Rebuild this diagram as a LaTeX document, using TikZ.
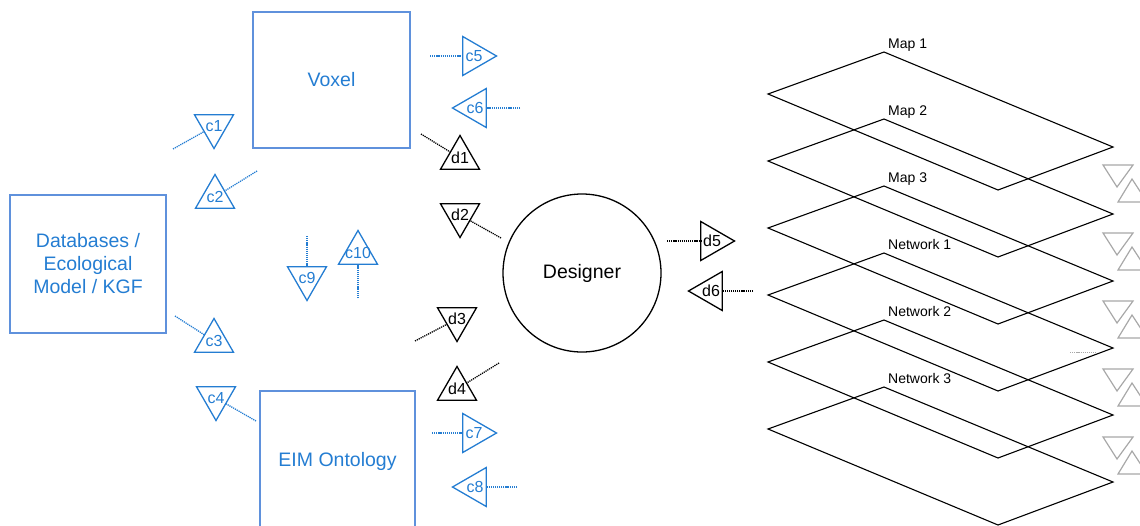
\documentclass[tikz,border=0pt]{standalone}
\usepackage{fontspec}
\setmainfont{Liberation Sans}
\usetikzlibrary{shapes.geometric}
\definecolor{tblue}{RGB}{36,125,210}
\definecolor{bblue}{RGB}{95,145,220}
\definecolor{lgray}{RGB}{168,168,168}

\begin{document}
\begin{tikzpicture}[x=1pt,y=-1pt,
  box/.style={draw=bblue, line width=1.4pt, text=tblue, align=center,
    font=\fontsize{19.5}{23}\selectfont, inner sep=0pt, outer sep=0pt},
  tri/.style={regular polygon, regular polygon sides=3, minimum size=45pt,
    inner sep=0pt, outer sep=0pt, line width=1.3pt},
  tup/.style={tri, regular polygon rotate=0},
  tdown/.style={tri, regular polygon rotate=180},
  tright/.style={tri, regular polygon rotate=-90},
  tleft/.style={tri, regular polygon rotate=90},
  ctri/.style={draw=tblue, label={[text=tblue, font=\fontsize{16}{16}\selectfont]center:#1}},
  dtri/.style={draw=black, label={[text=black, font=\fontsize{16}{16}\selectfont]center:#1}},
  link/.style={line width=1.3pt, dash pattern=on 1.2pt off 0.9pt},
  layer/.style={draw=black, line width=1.1pt, line join=miter},
  ghost/.style={draw=lgray, line width=1.2pt},
  laylabel/.style={anchor=base west, font=\fontsize{14}{14}\selectfont, inner sep=0pt}
]
\clip (0,0) rectangle (1140,525);

% main blocks
\node[box, minimum width=157pt, minimum height=136pt] (voxel) at (331.5,80) {Voxel};
\node[box, minimum width=156pt, minimum height=138pt] (db) at (88,264)
  {Databases /\\Ecological\\Model / KGF};
\node[box, minimum width=155pt, minimum height=140pt] (eim) at (337.5,461) {EIM Ontology};
\node[circle, draw=black, line width=1.3pt, minimum size=158pt, inner sep=0pt,
  font=\fontsize{19.5}{19.5}\selectfont] (designer) at (582,273) {Designer};

% blue channel markers
\node[tdown, ctri=c1] (c1) at (214,126) {};
\node[tup, ctri=c2] (c2) at (215,197) {};
\node[tup, ctri=c3] (c3) at (214,341) {};
\node[tdown, ctri=c4] (c4) at (216,398) {};
\node[tdown, ctri=c9] (c9) at (307,278) {};
\node[tup, ctri=c10] (c10) at (358,253) {};
\node[tright, ctri=c5] (c5) at (474,56) {};
\node[tleft, ctri=c6] (c6) at (475,108) {};
\node[tright, ctri=c7] (c7) at (474,433) {};
\node[tleft, ctri=c8] (c8) at (475,487) {};

% black channel markers
\node[tup, dtri=d1] (d1) at (460,158) {};
\node[tdown, dtri=d2] (d2) at (460,215) {};
\node[tdown, dtri=d3] (d3) at (457,319) {};
\node[tup, dtri=d4] (d4) at (457,389) {};
\node[tright, dtri=d5] (d5) at (712,241) {};
\node[tleft, dtri=d6] (d6) at (711,291) {};

% loose ends of the dotted links
\coordinate (c1e) at (173,149);
\coordinate (c2e) at (257,171);
\coordinate (c3e) at (175,316);
\coordinate (c4e) at (256,421);
\coordinate (c9e) at (307,236);
\coordinate (c10e) at (358,298);
\coordinate (c5e) at (430,56);
\coordinate (c6e) at (520,108);
\coordinate (c7e) at (432,433);
\coordinate (c8e) at (517,487);
\coordinate (d1e) at (421,134);
\coordinate (d2e) at (501,238);
\coordinate (d3e) at (415,341);
\coordinate (d4e) at (499,363);
\coordinate (d5e) at (667,241);
\coordinate (d6e) at (753,291);

\foreach \n in {c1,c2,c3,c4,c9,c10,c5,c6,c7,c8}
  \draw[link, tblue] (\n e) -- (\n);
\foreach \n in {d1,d2,d3,d4,d5,d6}
  \draw[link, black] (\n e) -- (\n);

% stacked layers
\foreach \t/\name [count=\i] in {52/Map 1,119/Map 2,186/Map 3,253/Network 1,320/Network 2,387/Network 3}{
  \draw[layer] (884,\t) -- (1113,\t+95) -- (998,\t+138) -- (768,\t+42) -- cycle;
  \node[laylabel] (lay\i) at (888,\t-3.5) {\name};
}

% faded marker pairs at the right edge
\foreach \t in {165,233,301,369,437}{
  \draw[ghost, line join=miter] (1103,\t) -- (1133,\t) -- (1117,\t+22) -- cycle;
  \draw[ghost, line join=miter] (1132,\t+14) -- (1147,\t+37) -- (1118,\t+37) -- cycle;
}
\coordinate (ga) at (1070,352);
\coordinate (gb) at (1097,352);
\draw[ghost, line width=0.9pt, dash pattern=on 1.2pt off 0.9pt] (ga) -- (gb);
\end{tikzpicture}
\end{document}
